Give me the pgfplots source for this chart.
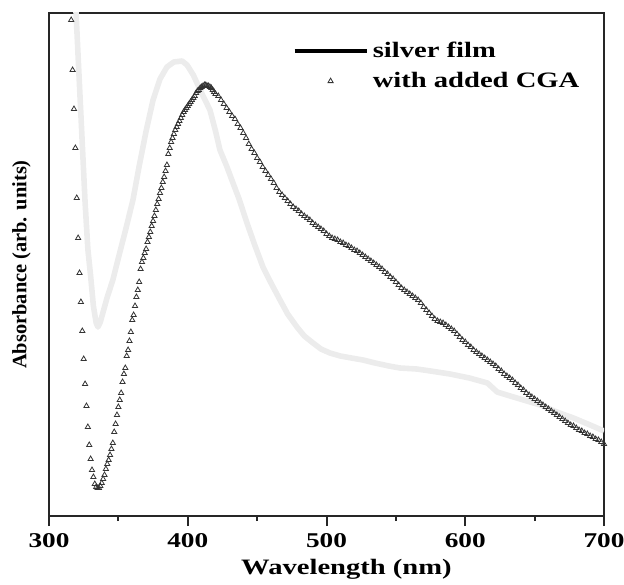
\documentclass[border=0pt]{standalone}
\usepackage{fontspec}
\setmainfont{Liberation Serif}[FakeStretch=1.3]
\newfontfamily\ylabfont{Liberation Serif}
\usepackage{pgfplots}
\pgfplotsset{compat=1.18}
\definecolor{filmgray}{RGB}{236,236,236}
\begin{document}
\begin{tikzpicture}
\begin{axis}[
  scale only axis, width=277.5pt, height=251.5pt,
  xmin=300, xmax=700, ymin=0, ymax=503,
  xtick={300,400,500,600,700}, minor xtick={350,450,550,650},
  xtick pos=left, ytick=\empty,
  tick align=outside,
  major tick length=5pt, minor tick length=2.5pt,
  axis line style={line width=1pt, black!85},
  every tick/.style={line width=1pt, black!85},
  /pgf/number format/assume math mode=true,
  ticklabel style={font=\bfseries\fontsize{10.5}{12}\selectfont},
  xlabel={Wavelength (nm)},
  xlabel style={font=\bfseries\fontsize{11}{13}\selectfont, xshift=10pt, yshift=1pt},
  ylabel={Absorbance (arb. units)},
  ylabel style={font=\ylabfont\bfseries\fontsize{10.2}{12}\selectfont, at={(axis description cs:-0.02,0.5)}, anchor=south},
  legend style={at={(axis description cs:0.427,0.96)}, anchor=north west, draw=none, fill=none,
    font=\bfseries\fontsize{11}{13}\selectfont, row sep=2pt},
  legend cell align=left,
]
\addplot[filmgray, line width=2.8pt, line join=round,
  legend image code/.code={\draw[black, line width=2.2pt] (0pt,0pt) -- (36pt,0pt);}]
coordinates {
(318.5,532) (319.5,503) (322,430) (324,372) (326,314) (328,267) (330,240) (332,210)
(334,193) (335.3,189) (337,194) (339,204) (342,219) (346,236) (350,258) (355,285)
(360.5,316) (365,350) (370,385) (375,416) (380,437) (385,449) (390,454) (395.9,455)
(399.5,451) (404,441) (410,423) (416,406) (420,385) (423.2,366) (428,350) (432.6,333)
(437,317) (442.7,293) (448,272) (454.2,249) (460,233) (466.5,216) (472,202) (478.7,189)
(484,180) (490.3,173) (496,167) (502.5,163) (510,160) (518,158) (526.3,156) (535,153)
(545,150) (553,148) (565,147) (575,145) (589,142) (603,138) (616,133) (623,124)
(630,121) (642,116) (654,111) (666,104) (678,98) (690,91) (700,85)
};
\addlegendentry{silver film}
\addplot[only marks, mark=triangle, mark size=1.5pt, mark options={draw=black!80, line width=0.4pt, fill=none},
  legend image code/.code={\draw[only marks, mark=triangle, mark size=1.5pt, mark options={draw=black!80, line width=0.4pt, fill=none}] plot coordinates {(18pt,0pt)};}]
coordinates {
(316,496) (317,446) (318,407) (319,368) (320,318) (321,278) (322,243) (323,214)
(324,185) (325,157) (326,132) (327,110) (328,89) (329,71) (330,57) (331,46)
(332,39) (333,32) (334,29) (335,28) (336,28)
(337,30) (338,33) (339,37) (340,41) (341,47) (342,52) (343,56) (344,61) (345,67)
(346,73) (347,84) (348,92) (349,101) (350,109) (351,116) (352,123) (353,134) (354,142)
(355,148) (356,160) (357,166) (358,175) (359,184) (360,196) (361,201) (362,210) (363,219)
(364,226) (365,234) (366,247) (367,254) (368,258) (369,263) (370,267) (371,274) (372,279)
(373,284) (374,290) (375,295) (376,300) (377,306) (378,312) (379,317) (380,323) (381,328)
(382,334) (383,339) (384,345) (385,351) (386,362) (387,368) (388,374) (389,378) (390,382)
(391,386) (392,389) (393,392) (394,395) (395,398) (396,401) (397,404) (398,406) (399,408)
(400,410) (401,412) (402,414) (403,416) (404,418) (405,420) (406,423) (407,425) (408,426)
(409,428) (410,429) (411,430) (412,431) (413,431) (414,430) (415,430) (416,429) (417,428)
(418,426) (419,424) (420,422)
(422,420) (424,416) (426,412) (428,408) (430,404) (432,400) (434,397) (436,392) (438,388)
(440,383) (442,378) (444,372) (446,367) (448,363) (450,358) (452,354) (454,349) (456,345)
(458,341) (460,337) (462,333) (464,328) (466,324) (468,321) (470,318) (472,315) (474,312)
(476,309) (478,307) (480,305) (482,302) (484,300) (486,298) (488,296) (490,293) (492,291)
(494,289) (496,287) (498,285) (500,282) (502,280) (504,278) (506,277) (508,276) (510,274)
(512,273) (514,271) (516,270) (518,268) (520,266) (522,265) (524,263) (526,261) (528,259)
(530,257) (532,255) (534,253) (536,251) (538,249) (540,247) (542,244) (544,242) (546,239)
(548,237) (550,234) (552,231) (554,228) (556,226) (558,224) (560,222) (562,220) (564,218)
(566,216) (568,213) (570,209) (572,206) (574,203) (576,200) (578,197) (580,195) (582,194)
(584,193) (586,191) (588,189) (590,187) (592,185) (594,182) (596,179) (598,176) (600,174)
(602,171) (604,169) (606,166) (608,164) (610,162) (612,160) (614,158) (616,156) (618,154)
(620,152) (622,150) (624,147) (626,145) (628,142) (630,140) (632,138) (634,136) (636,133)
(638,131) (640,128) (642,126) (644,123) (646,121) (648,119) (650,117) (652,115) (654,113)
(656,111) (658,109) (660,107) (662,105) (664,103) (666,101) (668,99) (670,97) (672,95)
(674,93) (676,91) (678,90) (680,88) (682,86) (684,85) (686,83) (688,82) (690,80)
(692,79) (694,77) (696,76) (698,74) (700,72)
};
\addlegendentry{with added CGA}
\end{axis}
\pgfresetboundingbox
\useasboundingbox ([xshift=-24.5pt,yshift=6.5pt]current axis.north west) rectangle ([xshift=10pt,yshift=-34pt]current axis.south east);
\end{tikzpicture}
\end{document}
